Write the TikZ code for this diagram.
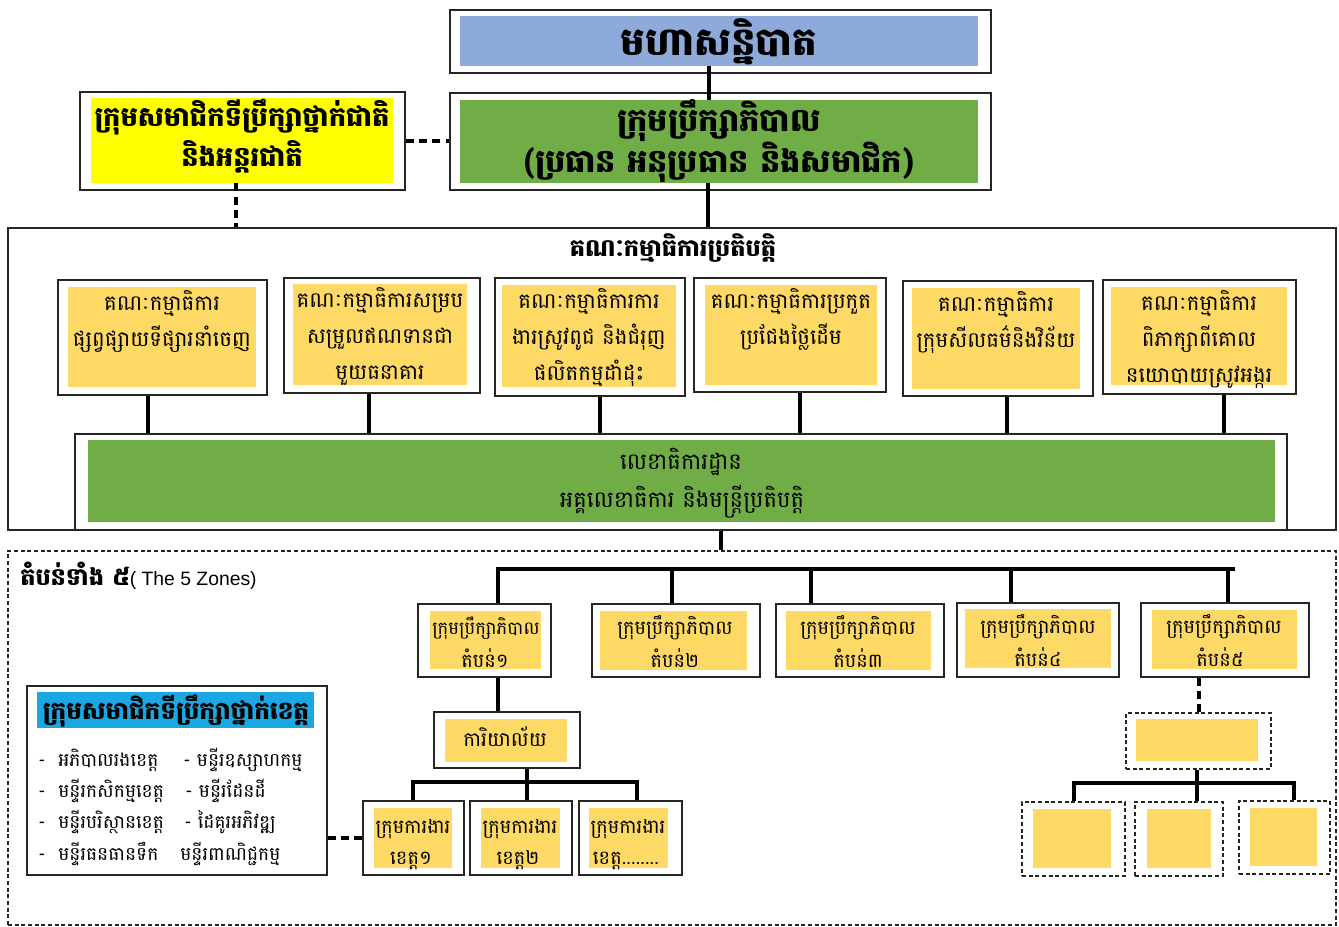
\documentclass[tikz,border=0pt]{standalone}
\usepackage{fontspec}
\setmainfont{Liberation Sans}
\newfontfamily\kh[Script=Khmer]{Battambang}
\usetikzlibrary{fit}
\definecolor{blueF}{HTML}{8EAADB}
\definecolor{greenF}{HTML}{70AD47}
\definecolor{yelF}{HTML}{FFFF00}
\definecolor{goldF}{HTML}{FFD966}
\definecolor{cyanF}{HTML}{1AA7E2}
\tikzset{
  outerbox/.style={draw=black!85, line width=0.9pt, inner sep=0pt, fit={#1}},
  dashbox/.style={draw=black!85, line width=0.8pt, dash pattern=on 3pt off 2pt, inner sep=0pt, fit={#1}},
  fillbox/.style={fill=#1, inner sep=0pt},
  link/.style={line width=3pt},
  dlink/.style={line width=3pt, dash pattern=on 6pt off 4pt},
  txt/.style={anchor=base, inner sep=0pt},
  comtext/.style={font=\kh\fontsize{16}{27}\selectfont, align=center, anchor=north, inner sep=0pt},
  zonef/.style={font=\kh\fontsize{14.5}{16}\selectfont},
  listtext/.style={font=\kh\fontsize{14}{16}\selectfont, anchor=west, inner sep=0pt},
}
\begin{document}
\begin{tikzpicture}[x=0.75pt, y=-0.75pt]
\useasboundingbox (0,0) rectangle (1339,927);

% top: general assembly
\node[outerbox={(450,10)(991,73)}] (gaO) {};
\node[fillbox=blueF, fit={(460,16)(978,66)}] (ga) {};
\node[txt, font=\kh\bfseries\fontsize{29}{32}\selectfont] (gat) at (719,56) {មហាសន្និបាត};

% board
\node[outerbox={(450,93)(991,190)}] (bdO) {};
\node[fillbox=greenF, fit={(460,100)(978,183)}] (bd) {};
\node[txt, font=\kh\bfseries\fontsize{24}{28}\selectfont] (bdt1) at (719,132) {ក្រុមប្រឹក្សាភិបាល};
\node[txt, font=\kh\bfseries\fontsize{24}{28}\selectfont] (bdt2) at (719,173) {(ប្រធាន អនុប្រធាន និងសមាជិក)};
\draw[link] (709,0 |- ga.south) -- (709,0 |- bd.north);

% national advisors
\node[outerbox={(80,92)(405,190)}] (ntO) {};
\node[fillbox=yelF, fit={(91,98)(393,183)}] (nt) {};
\node[txt, font=\kh\bfseries\fontsize{20.5}{24}\selectfont] (ntt1) at (242,127) {ក្រុមសមាជិកទីប្រឹក្សាថ្នាក់ជាតិ};
\node[txt, font=\kh\bfseries\fontsize{20.5}{24}\selectfont] (ntt2) at (242,167) {និងអន្តរជាតិ};
\draw[dlink] (ntO.east) -- (ntO.east -| bdO.west);

% executive committee frame
\node[outerbox={(8,228)(1336,530)}] (ex) {};
\node[txt, font=\kh\bfseries\fontsize{18}{20}\selectfont] (exl) at (673,257) {គណៈកម្មាធិការប្រតិបត្តិ};
\draw[link] (708,0 |- bd.south) -- (708,0 |- ex.north);
\draw[dlink] (236,0 |- nt.south) -- (236,0 |- ex.north);

% committees
\node[outerbox={(58,280)(267,395)}] (c1O) {};
\node[fillbox=goldF, fit={(68,287)(256,387)}] (c1) {};
\node[comtext] (c1t) at ([yshift=-3pt]c1.north) {គណៈកម្មាធិការ\\ផ្សព្វផ្សាយទីផ្សារនាំចេញ};

\node[outerbox={(284,278)(480,393)}] (c2O) {};
\node[fillbox=goldF, fit={(293,284)(467,385)}] (c2) {};
\node[comtext] (c2t) at ([yshift=-3pt]c2.north) {គណៈកម្មាធិការសម្រប\\សម្រួលឥណទានជា\\មួយធនាគារ};

\node[outerbox={(495,278)(685,396)}] (c3O) {};
\node[fillbox=goldF, fit={(502,285)(676,387)}] (c3) {};
\node[comtext] (c3t) at ([yshift=-3pt]c3.north) {គណៈកម្មាធិការការ\\ងារស្រូវពូជ និងជំរុញ\\ផលិតកម្មដាំដុះ};

\node[outerbox={(694,278)(886,392)}] (c4O) {};
\node[fillbox=goldF, fit={(705,285)(877,385)}] (c4) {};
\node[comtext] (c4t) at ([yshift=-3pt]c4.north) {គណៈកម្មាធិការប្រកួត\\ប្រជែងថ្លៃដើម};

\node[outerbox={(903,281)(1093,396)}] (c5O) {};
\node[fillbox=goldF, fit={(912,288)(1080,389)}] (c5) {};
\node[comtext] (c5t) at ([yshift=-3pt]c5.north) {គណៈកម្មាធិការ\\ក្រុមសីលធម៌និងវិន័យ};

\node[outerbox={(1103,280)(1296,394)}] (c6O) {};
\node[fillbox=goldF, fit={(1111,287)(1287,385)}] (c6) {};
\node[comtext] (c6t) at ([yshift=-3pt]c6.north) {គណៈកម្មាធិការ\\ពិភាក្សាពីគោល\\នយោបាយស្រូវអង្ករ};

% secretariat
\node[outerbox={(75,434)(1287,530)}] (seO) {};
\node[fillbox=greenF, fit={(88,440)(1275,522)}] (se) {};
\node[txt, font=\kh\fontsize{17}{20}\selectfont] (set1) at (681,469) {លេខាធិការដ្ឋាន};
\node[txt, font=\kh\fontsize{17}{20}\selectfont] (set2) at (682,507) {អគ្គលេខាធិការ និងមន្ត្រីប្រតិបត្តិ};

\draw[link] (148,0 |- c1O.south) -- (148,0 |- seO.north);
\draw[link] (369,0 |- c2O.south) -- (369,0 |- seO.north);
\draw[link] (600,0 |- c3O.south) -- (600,0 |- seO.north);
\draw[link] (800,0 |- c4O.south) -- (800,0 |- seO.north);
\draw[link] (1007,0 |- c5O.south) -- (1007,0 |- seO.north);
\draw[link] (1224,0 |- c6O.south) -- (1224,0 |- seO.north);

% zones frame
\node[dashbox={(8,551)(1336,925)}] (zn) {};
\draw[link] (721,0 |- seO.south) -- (721,0 |- zn.north);
\node[anchor=base west, inner sep=0pt] (znl) at (20,585) {\kh\bfseries\fontsize{18}{20}\selectfont តំបន់ទាំង ៥\normalfont\fontsize{14.5}{16}\selectfont( The 5 Zones)};

% zone boards
\node[outerbox={(418,604)(551,677)}] (z1O) {};
\node[fillbox=goldF, fit={(430,611)(541,669)}] (z1) {};
\node[txt, font=\kh\fontsize{13.5}{16}\selectfont] (z1a) at (486,634) {ក្រុមប្រឹក្សាភិបាល};
\node[txt, zonef] (z1b) at (485,667) {តំបន់១};
\node[outerbox={(592,604)(760,677)}] (z2O) {};
\node[fillbox=goldF, fit={(600,611)(747,670)}] (z2) {};
\node[txt, zonef] (z2a) at (675,634) {ក្រុមប្រឹក្សាភិបាល};
\node[txt, zonef] (z2b) at (675,667) {តំបន់២};
\node[outerbox={(776,604)(944,677)}] (z3O) {};
\node[fillbox=goldF, fit={(786,611)(931,670)}] (z3) {};
\node[txt, zonef] (z3a) at (858,634) {ក្រុមប្រឹក្សាភិបាល};
\node[txt, zonef] (z3b) at (858,667) {តំបន់៣};
\node[outerbox={(957,603)(1119,677)}] (z4O) {};
\node[fillbox=goldF, fit={(965,609)(1111,668)}] (z4) {};
\node[txt, zonef] (z4a) at (1038,633) {ក្រុមប្រឹក្សាភិបាល};
\node[txt, zonef] (z4b) at (1038,666) {តំបន់៤};
\node[outerbox={(1141,603)(1309,677)}] (z5O) {};
\node[fillbox=goldF, fit={(1152,610)(1297,669)}] (z5) {};
\node[txt, zonef] (z5a) at (1224,633) {ក្រុមប្រឹក្សាភិបាល};
\node[txt, zonef] (z5b) at (1220,666) {តំបន់៥};

\coordinate (barA) at (496,569);
\coordinate (barB) at (1235,569);
\draw[link] (barA) -- (barB);
\draw[link] (498,0 |- barA) -- (498,0 |- z1O.north);
\draw[link] (672,0 |- barA) -- (672,0 |- z2O.north);
\draw[link] (811,0 |- barA) -- (811,0 |- z3O.north);
\draw[link] (1011,0 |- barA) -- (1011,0 |- z4O.north);
\draw[link] (1228,0 |- barA) -- (1228,0 |- z5O.north);

% office
\node[outerbox={(434,712)(580,768)}] (ofO) {};
\node[fillbox=goldF, fit={(445,719)(567,762)}] (of) {};
\node[txt, font=\kh\fontsize{15}{18}\selectfont] (oft) at (505,746) {ការិយាល័យ};
\draw[link] (498,0 |- z1O.south) -- (498,0 |- ofO.north);

% provincial working groups
\node[outerbox={(363,801)(464,875)}] (p1O) {};
\node[fillbox=goldF, fit={(374,808)(452,868)}] (p1) {};
\node[txt, zonef] (p1a) at (413,833) {ក្រុមការងារ};
\node[txt, zonef] (p1b) at (411,864) {ខេត្ត១};
\node[outerbox={(470,801)(572,875)}] (p2O) {};
\node[fillbox=goldF, fit={(481,808)(560,868)}] (p2) {};
\node[txt, zonef] (p2a) at (520,833) {ក្រុមការងារ};
\node[txt, zonef] (p2b) at (518,864) {ខេត្ត២};
\node[outerbox={(579,801)(682,875)}] (p3O) {};
\node[fillbox=goldF, fit={(589,808)(668,868)}] (p3) {};
\node[txt, zonef] (p3a) at (628,833) {ក្រុមការងារ};
\node[txt, zonef] (p3b) at (626,864) {ខេត្ត........};

\coordinate (pbA) at (411,782);
\coordinate (pbB) at (639,782);
\draw[link] (527,0 |- ofO.south) -- (527,0 |- pbA);
\draw[link] (pbA) -- (pbB);
\draw[link] (413,0 |- pbA) -- (413,0 |- p1O.north);
\draw[link] (527,0 |- pbA) -- (527,0 |- p2O.north);
\draw[link] (637,0 |- pbA) -- (637,0 |- p3O.north);

% provincial advisors
\node[outerbox={(27,686)(327,875)}] (pvO) {};
\node[fillbox=cyanF, fit={(37,692)(314,728)}] (pv) {};
\node[txt, font=\kh\bfseries\fontsize{18.5}{20}\selectfont] (pvt) at (176,719) {ក្រុមសមាជិកទីប្រឹក្សាថ្នាក់ខេត្ត};
\node[listtext] (l1) at (38,760) {-\ \ អភិបាលរងខេត្ត};
\node[listtext] (l2) at (38,791) {-\ \ មន្ទីរកសិកម្មខេត្ត};
\node[listtext] (l3) at (38,822) {-\ \ មន្ទីរបរិស្ថានខេត្ត};
\node[listtext] (l4) at (38,854) {-\ \ មន្ទីរធនធានទឹក};
\node[listtext] (r1) at (183,760) {- មន្ទីរឧស្សាហកម្ម};
\node[listtext] (r2) at (185,791) {- មន្ទីរដែនដី};
\node[listtext] (r3) at (184,822) {- ដៃគូរអភិវឌ្ឍ};
\node[listtext] (r4) at (180,854) {មន្ទីរពាណិជ្ជកម្ម};
\draw[dlink] (p1O.west) -- (p1O.west -| pvO.east);

% zone 5 placeholder branch
\node[dashbox={(1126,713)(1271,769)}] (dO) {};
\node[fillbox=goldF, fit={(1136,719)(1258,761)}] (d) {};
\draw[dlink] (dO.north |- z5O.south) -- (dO.north);

\node[dashbox={(1022,802)(1125,876)}] (d1O) {};
\node[fillbox=goldF, fit={(1033,809)(1111,868)}] (d1) {};
\node[dashbox={(1135,802)(1223,876)}] (d2O) {};
\node[fillbox=goldF, fit={(1147,809)(1211,868)}] (d2) {};
\node[dashbox={(1239,801)(1330,874)}] (d3O) {};
\node[fillbox=goldF, fit={(1250,808)(1317,866)}] (d3) {};

\coordinate (dbA) at (1072,783);
\coordinate (dbB) at (1296,783);
\draw[link] (1197,0 |- dO.south) -- (1197,0 |- dbA);
\draw[link] (dbA) -- (dbB);
\draw[link] (1074,0 |- dbA) -- (1074,0 |- d1O.north);
\draw[link] (1197,0 |- dbA) -- (1197,0 |- d2O.north);
\draw[link] (1294,0 |- dbA) -- (1294,0 |- d3O.north);
\end{tikzpicture}
\end{document}
